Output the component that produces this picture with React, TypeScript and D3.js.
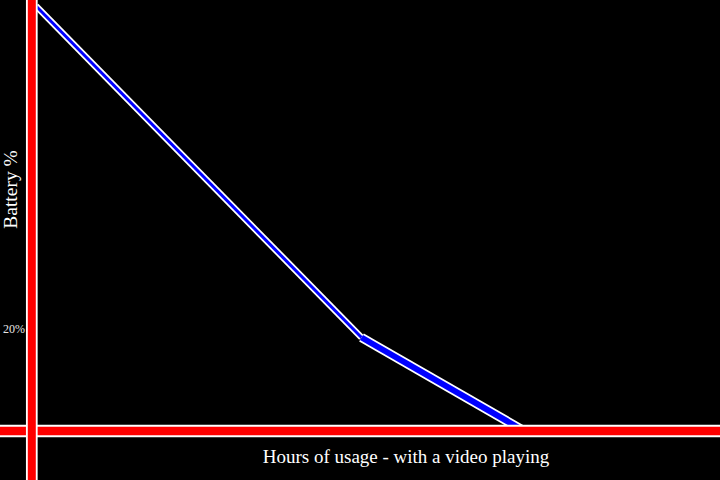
import React from "react";
import * as d3 from "d3";

// hours of video playback vs remaining battery
const hours = [0, 4, 6.0];
const battery = [100, 22, 0];
const yTicks = [20];
const xTitle = "Hours of usage - with a video playing";
const yTitle = "Battery %";

const W = 720;
const H = 480;

// each stretch of the curve gets its own stroke weight
const segments = [
  { from: 0, to: 1, outer: 6.5, inner: 3 },
  { from: 1, to: 2, outer: 9.5, inner: 6 },
];

const App: React.FC = () => {
  const x = d3.scaleLinear().domain([0, 4]).range([36, 361.5]);
  const y = d3.scaleLinear().domain([0, 100]).range([431, 6]);
  const line = d3.line<number>().x((i) => x(hours[i])).y((i) => y(battery[i]));

  const axisX = 31.8;
  const axisY = y(0);

  return (
    <div style={{ position: "absolute", left: 0, top: 0, width: W, height: H, background: "#000" }}>
      <svg width={W} height={H} style={{ display: "block", background: "#000" }}>
        {/* battery curve, drawn under the axes */}
        {segments.map((s, k) => (
          <g key={k}>
            <path d={line([s.from, s.to]) || ""} fill="none" stroke="#fff" strokeWidth={s.outer} />
            <path d={line([s.from, s.to]) || ""} fill="none" stroke="#0000ff" strokeWidth={s.inner} />
          </g>
        ))}

        {/* horizontal axis */}
        <line x1={0} x2={W} y1={axisY} y2={axisY} stroke="#fff" strokeWidth={12.5} />
        <line x1={0} x2={W} y1={axisY} y2={axisY} stroke="#ff0000" strokeWidth={8.5} />

        {/* vertical axis */}
        <line x1={axisX} x2={axisX} y1={0} y2={H} stroke="#fff" strokeWidth={11.7} />
        <line x1={axisX} x2={axisX} y1={0} y2={H} stroke="#ff0000" strokeWidth={8} />

        {yTicks.map((t) => (
          <text
            key={t}
            x={3}
            y={y(t) - 13}
            fill="#e6e6e6"
            fontFamily="'Liberation Serif', serif"
            fontSize={12}
          >
            {t}%
          </text>
        ))}

        <text
          transform={`translate(17, 189.5) rotate(-90)`}
          textAnchor="middle"
          fill="#fff"
          fontFamily="'Liberation Serif', serif"
          fontSize={19.5}
        >
          {yTitle}
        </text>

        <text
          x={406}
          y={462.5}
          textAnchor="middle"
          fill="#fff"
          fontFamily="'Liberation Serif', serif"
          fontSize={19}
        >
          {xTitle}
        </text>
      </svg>
    </div>
  );
};

export default App;
